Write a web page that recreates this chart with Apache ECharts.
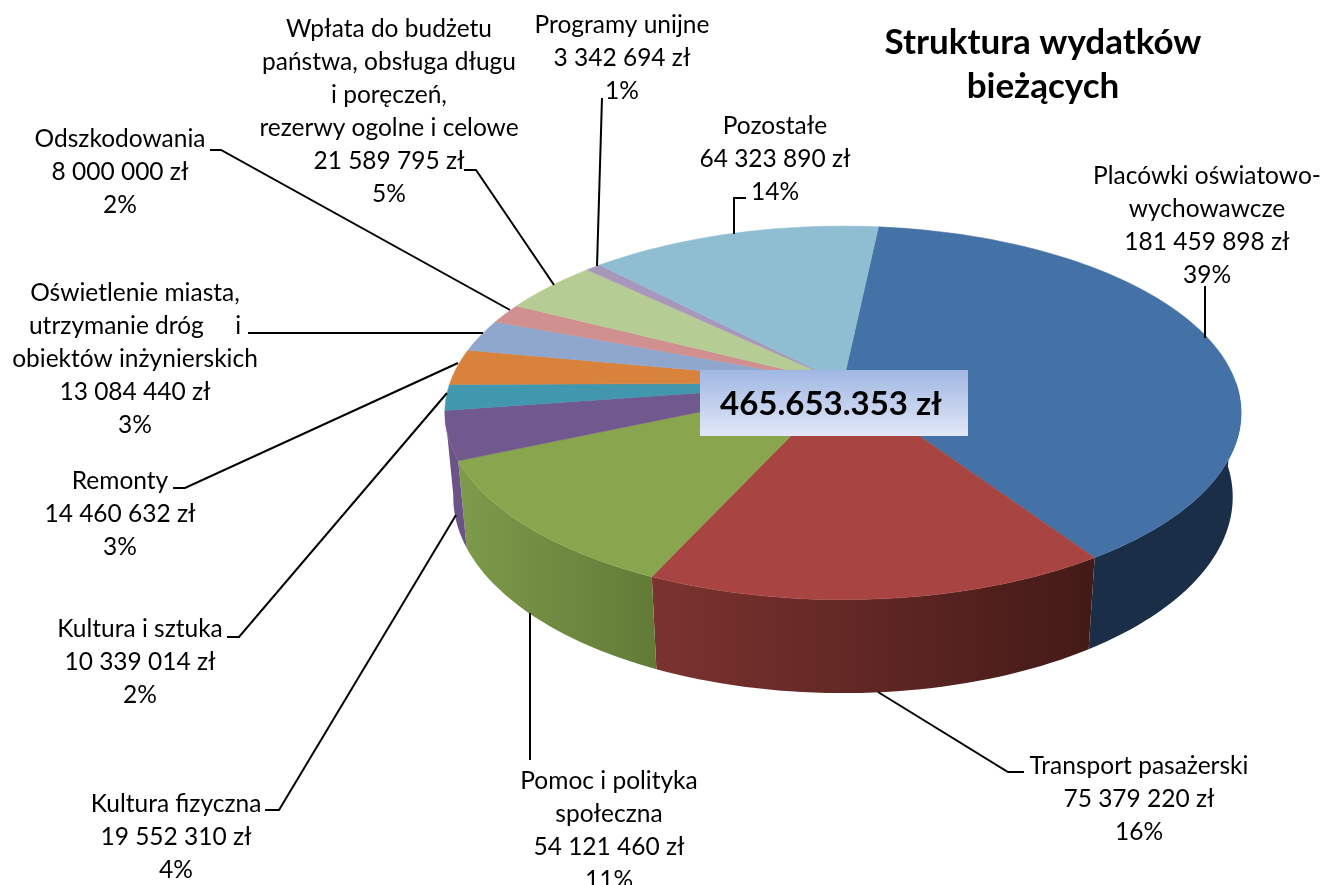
<!DOCTYPE html>
<html>
<head>
<meta charset="utf-8">
<title>Struktura wydatków bieżących</title>
<script src="https://cdn.jsdelivr.net/npm/echarts@6/dist/echarts.min.js"></script>
<style>
html,body{margin:0;padding:0;background:#fff;}
#chart{width:1321px;height:885px;}
</style>
</head>
<body>
<div id="chart"></div>
<script>
// dane
var categories = ['Placówki oświatowo-\nwychowawcze', 'Transport pasażerski', 'Pomoc i polityka\nspołeczna', 'Kultura fizyczna', 'Kultura i sztuka', 'Remonty', 'Oświetlenie miasta,\nutrzymanie dróg     i\nobiektów inżynierskich', 'Odszkodowania', 'Wpłata do budżetu\npaństwa, obsługa długu\ni poręczeń,\nrezerwy ogolne i celowe', 'Programy unijne', 'Pozostałe']
var values = [181459898, 75379220, 54121460, 19552310, 10339014, 14460632, 13084440, 8000000, 21589795, 3342694, 64323890]
var percents = [39, 16, 11, 4, 2, 3, 3, 2, 5, 1, 14]
var totalLabel = '465.653.353 zł'
var titleText = 'Struktura wydatków\nbieżących'

var topColors = ['#4471a6', '#a84543', '#89a54e', '#71588f', '#4097ae', '#d9823b', '#8fa7cd', '#cf908f', '#b6cc95', '#a797bb', '#8fbdd1']
var wallColors = [['#1b2e48', '#1b2e48'], ['#7c3330', '#431a17'], ['#7e9a4a', '#617b37'], ['#6b5388', '#6b5388']]

// polozenie opisow: srodek tekstu, gora pierwszej linii
var labelPos = [[1207,160],[1139,750],[609,765],[176,788],[140,613],[120,465],[135,277],[120,123],[389,13],[622,9],[775,110]]
// linie odniesienia
var leaders = [
  [[1205,338],[1205,286]],
  [[878,692],[1008,772],[1024,772]],
  [[530,613],[530,760]],
  [[456,515],[279,810],[265,810]],
  [[447,393],[239,637],[227,637]],
  [[458,363],[185,488],[173,488]],
  [[483,333],[248,333]],
  [[510,310],[221,150],[210,150]],
  [[554,285],[476,170],[464,170]],
  [[597,266],[602,98]],
  [[734,234],[734,198],[746,198]]
]

// rzut perspektywiczny kola tortu
var cx = 843, cy = 383, R = 393, S = 182, k = 0.16, m = 0.021, D = 85
var startAngle = 6
var wallEnd = 262
var total = values.reduce(function(a, b){ return a + b }, 0)

function project(deg, z){
  var a = deg * Math.PI / 180
  var u = Math.sin(a), v = -Math.cos(a)
  var w = 1 - k * v + m * z
  return [cx + R * u / w, cy + (S * v + D * z) / w]
}
function formatZl(n){
  return String(n).replace(/\B(?=(\d{3})+(?!\d))/g, ' ') + ' zł'
}
function arc(from, to, z){
  var pts = []
  var n = Math.max(2, Math.ceil((to - from) / 1.5))
  for(var i = 0; i <= n; i++){
    pts.push(project(from + (to - from) * i / n, z))
  }
  return pts
}

function renderSlice(params, api){
  var i = params.dataIndex
  var before = 0
  for(var j = 0; j < i; j++) before += values[j]
  var a0 = startAngle + before / total * 360
  var a1 = a0 + api.value(0) / total * 360
  var children = []
  var from = Math.max(a0, 90), to = Math.min(a1, wallEnd)
  if(to > from && wallColors[i]){
    var topEdge = arc(from, to, 0)
    var bottomEdge = arc(from, to, 1).reverse()
    var wall = topEdge.concat(bottomEdge)
    var xs = wall.map(function(p){ return p[0] })
    var c = wallColors[i]
    children.push({
      type: 'polygon',
      z2: 1,
      shape: {points: wall},
      style: {
        fill: {
          type: 'linear', global: true,
          x: Math.min.apply(null, xs), y: 0, x2: Math.max.apply(null, xs), y2: 0,
          colorStops: [{offset: 0, color: c[0]}, {offset: 1, color: c[1]}]
        }
      }
    })
  }
  children.push({
    type: 'polygon',
    z2: 10,
    shape: {points: [[cx, cy]].concat(arc(a0, a1, 0))},
    style: {fill: topColors[i], stroke: topColors[i], lineWidth: 0.5}
  })
  return {type: 'group', children: children}
}

var font = 'Lato, "Noto Sans", sans-serif'
var graphics = []
leaders.forEach(function(pts){
  graphics.push({type: 'polyline', z: 5, shape: {points: pts}, style: {stroke: '#000', lineWidth: 2, fill: null}})
})
categories.forEach(function(name, i){
  graphics.push({
    type: 'text', z: 6, x: labelPos[i][0], y: labelPos[i][1],
    style: {
      text: name + '\n' + formatZl(values[i]) + '\n' + percents[i] + '%',
      font: '24.5px ' + font, lineHeight: 33, align: 'center', verticalAlign: 'top', fill: '#000'
    }
  })
})
graphics.push({
  type: 'rect', z: 7, shape: {x: 700, y: 370, width: 268, height: 66},
  style: {fill: new echarts.graphic.LinearGradient(0, 0, 0, 1, [{offset: 0, color: '#a0b7e3'}, {offset: 1, color: '#e1e7f6'}])}
})
graphics.push({
  type: 'text', z: 8, x: 831, y: 404,
  style: {text: totalLabel, font: 'bold 33px ' + font, align: 'center', verticalAlign: 'middle', fill: '#000'}
})
graphics.push({
  type: 'text', z: 8, x: 1043, y: 21,
  style: {text: titleText, font: 'bold 35px ' + font, lineHeight: 44, align: 'center', verticalAlign: 'top', fill: '#000'}
})

var chart = echarts.init(document.getElementById('chart'))
chart.setOption({
  animation: false,
  backgroundColor: '#fff',
  graphic: graphics,
  series: [{
    type: 'custom',
    coordinateSystem: 'none',
    renderItem: renderSlice,
    data: values.map(function(v, i){ return {name: categories[i], value: [v]} })
  }]
})
</script>
</body>
</html>
